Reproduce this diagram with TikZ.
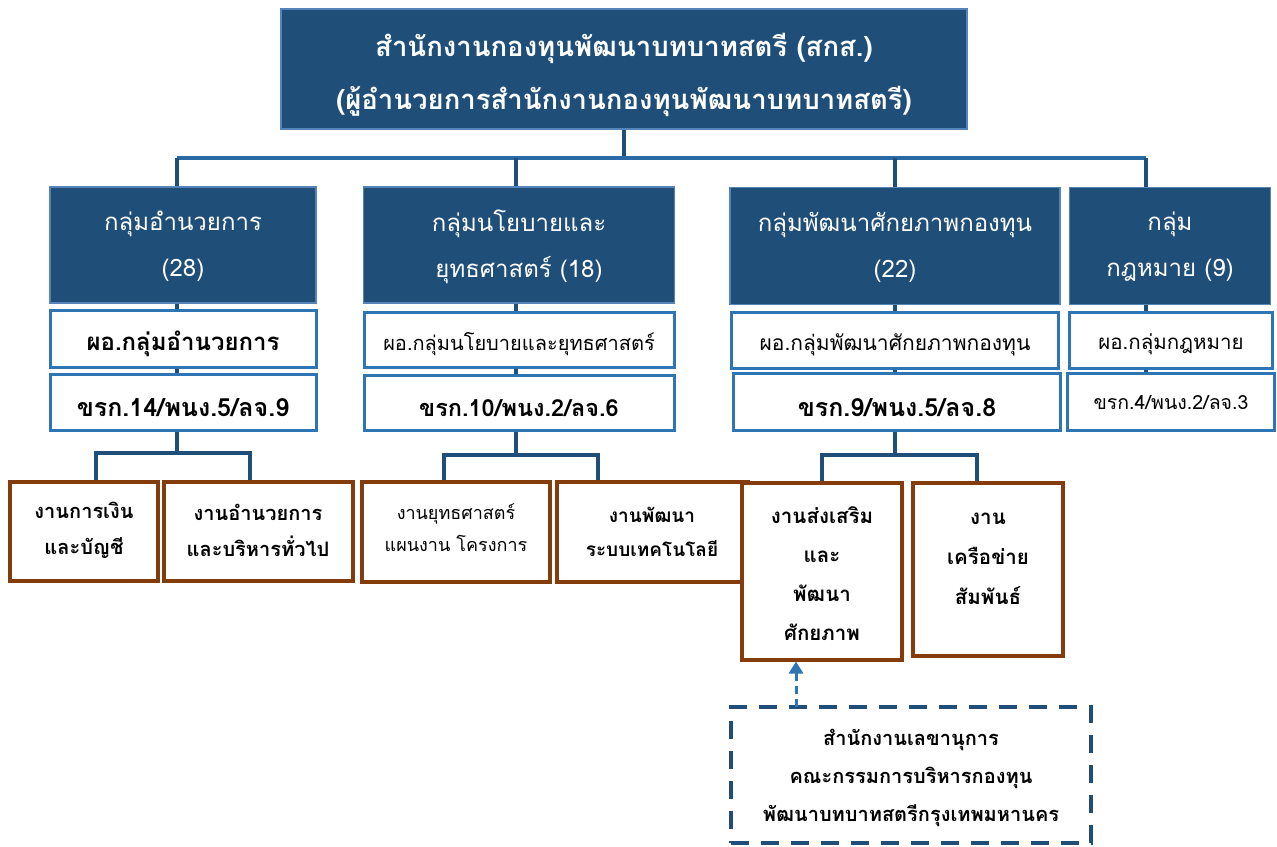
\documentclass[tikz,border=0pt]{standalone}
\usepackage{fontspec}
\setmainfont[Script=Thai]{Loma}
\usetikzlibrary{arrows.meta,backgrounds}
\definecolor{dkfill}{HTML}{1F4E79}
\definecolor{dkline}{HTML}{5585B8}
\definecolor{wline}{HTML}{2E75B6}
\definecolor{conn}{HTML}{1F4E79}
\definecolor{brn}{HTML}{843C0C}
\definecolor{arr}{HTML}{2E75B6}
\newcommand\fs[2]{\fontsize{#1}{#2}\selectfont}
\tikzset{
  box/.style={rectangle, inner sep=0pt, outer sep=0pt, align=center},
  dkbox/.style={box, fill=dkfill, draw=dkline, line width=1.5pt},
  wbox/.style={box, fill=white, draw=wline, line width=3pt},
  bbox/.style={box, fill=white, draw=brn, line width=4pt},
  dbox/.style={box, fill=white, draw=conn, line width=4pt, dash pattern=on 18pt off 12pt},
  txt/.style={inner sep=0pt, outer sep=0pt, align=center, text=black},
  wtxt/.style={txt, text=white},
  cl/.style={draw=conn, line width=3.5pt},
  bus/.style={draw=wline!70!conn, line width=4.5pt},
}
\begin{document}
\begin{tikzpicture}[x=1pt,y=-1pt]
\useasboundingbox (0,0) rectangle (1277,846);
% top
\node[dkbox, minimum width=686pt, minimum height=120pt] (top) at (624,69) {};
\node[wtxt, font=\fs{27.5}{53}\bfseries] (topT) at ([yshift=-6pt]top.center)
  {สำนักงานกองทุนพัฒนาบทบาทสตรี (สกส.)\\(ผู้อำนวยการสำนักงานกองทุนพัฒนาบทบาทสตรี)};
% level 2
\node[dkbox, minimum width=266pt, minimum height=116pt] (gA) at (183,245) {};
\node[dkbox, minimum width=311pt, minimum height=116pt] (gB) at (519,245) {};
\node[dkbox, minimum width=330pt, minimum height=117pt] (gC) at (895,246) {};
\node[dkbox, minimum width=201pt, minimum height=117pt] (gD) at (1170,246) {};
\node[wtxt, font=\fs{24}{46}] (gAT) at ([yshift=-1.5pt]gA.center) {กลุ่มอำนวยการ\\(28)};
\node[wtxt, font=\fs{24}{46}] (gBT) at ([yshift=-1.5pt]gB.center) {กลุ่มนโยบายและ\\ยุทธศาสตร์ (18)};
\node[wtxt, font=\fs{24}{46}] (gCT) at ([yshift=-1pt]gC.center) {กลุ่มพัฒนาศักยภาพกองทุน\\(22)};
\node[wtxt, font=\fs{24}{46}] (gDT) at ([yshift=-1pt]gD.center) {กลุ่ม\\กฎหมาย (9)};
% level 3
\node[wbox, minimum width=266pt, minimum height=57pt] (hA) at (183,339) {};
\node[wbox, minimum width=310pt, minimum height=55pt] (hB) at (519,340) {};
\node[wbox, minimum width=327pt, minimum height=56pt] (hC) at (895,340) {};
\node[wbox, minimum width=203pt, minimum height=56pt] (hD) at (1171,340) {};
\node[txt, font=\fs{24}{28}\bfseries] (hAT) at ([yshift=-5pt]hA.center) {ผอ.กลุ่มอำนวยการ};
\node[txt, font=\fs{20}{24}] (hBT) at ([yshift=-4pt]hB.center) {ผอ.กลุ่มนโยบายและยุทธศาสตร์};
\node[txt, font=\fs{21}{25}] (hCT) at ([yshift=-5pt]hC.center) {ผอ.กลุ่มพัฒนาศักยภาพกองทุน};
\node[txt, font=\fs{20.5}{24}] (hDT) at ([yshift=-4pt]hD.center) {ผอ.กลุ่มกฎหมาย};
% level 4
\node[wbox, minimum width=266pt, minimum height=56pt] (sA) at (183,402) {};
\node[wbox, minimum width=310pt, minimum height=55pt] (sB) at (519,403) {};
\node[wbox, minimum width=327pt, minimum height=57pt] (sC) at (897,402) {};
\node[wbox, minimum width=207pt, minimum height=57pt] (sD) at (1171,402) {};
\node[txt, font=\fs{25}{28}\bfseries] (sAT) at ([yshift=-6pt]sA.center) {ขรก.14/พนง.5/ลจ.9};
\node[txt, font=\fs{23.5}{28}\bfseries] (sBT) at ([yshift=-5pt]sB.center) {ขรก.10/พนง.2/ลจ.6};
\node[txt, font=\fs{25}{28}\bfseries] (sCT) at ([yshift=-6pt]sC.center) {ขรก.9/พนง.5/ลจ.8};
\node[txt, font=\fs{19.5}{22}] (sDT) at ([yshift=-1pt]sD.center) {ขรก.4/พนง.2/ลจ.3};
% level 5
\node[bbox, minimum width=148pt, minimum height=99pt] (a1) at (84,531) {};
\node[bbox, minimum width=189pt, minimum height=99pt] (a2) at (258,531) {};
\node[bbox, minimum width=188pt, minimum height=100pt] (b1) at (456,532) {};
\node[bbox, minimum width=191pt, minimum height=100pt] (b2) at (652,532) {};
\node[bbox, minimum width=160pt, minimum height=177pt] (c1) at (822,571) {};
\node[bbox, minimum width=150pt, minimum height=173pt] (c2) at (988,569.5) {};
\node[txt, font=\fs{20}{36}\bfseries] (a1T) at ([yshift=1pt]a1.center) {งานการเงิน\\และบัญชี};
\node[txt, font=\fs{20}{36}\bfseries] (a2T) at ([yshift=1pt]a2.center) {งานอำนวยการ\\และบริหารทั่วไป};
\node[txt, font=\fs{18}{32}] (b1T) at ([yshift=4pt]b1.center) {งานยุทธศาสตร์\\แผนงาน โครงการ};
\node[txt, font=\fs{19}{34}\bfseries] (b2T) at (b2.center) {งานพัฒนา\\ระบบเทคโนโลยี};
\node[txt, font=\fs{20.5}{39}\bfseries] (c1T) at ([yshift=-3pt]c1.center) {งานส่งเสริม\\และ\\พัฒนา\\ศักยภาพ};
\node[txt, font=\fs{20.5}{40}\bfseries] (c2T) at ([yshift=10.5pt]c2.center) {งาน\\เครือข่าย\\สัมพันธ์};
% dashed
\node[dbox, minimum width=360pt, minimum height=136pt] (sec) at (911,775) {};
\node[txt, font=\fs{20}{38}\bfseries] (secT) at ([yshift=-3pt]sec.center)
  {สำนักงานเลขานุการ\\คณะกรรมการบริหารกองทุน\\พัฒนาบทบาทสตรีกรุงเทพมหานคร};
% coordinates
\coordinate (busL) at (177,158);
\coordinate (busR) at (1146,158);
\coordinate (xB) at (516,158);
\coordinate (xC) at (895,158);
\coordinate (fA1) at (96,453);
\coordinate (fA2) at (250,453);
\coordinate (fB1) at (444,455);
\coordinate (fB2) at (598,455);
\coordinate (fC1) at (822,455);
\coordinate (fC2) at (977,455);
\coordinate (arS) at (796,707);
\begin{pgfonlayer}{background}
\path[cl] (top.south) -- (top.south|-busL);
\path[bus] (busL) -- (busR);
\path[cl] (busL) -- (busL|-fA1);
\path[cl] (xB) -- (xB|-fB1);
\path[cl] (xC) -- (xC|-fC1);
\path[cl] (busR) -- (busR|-sD.south);
\path[cl] (fA1|-a1.north) -- (fA1) -- (fA2) -- (fA2|-a2.north);
\path[cl] (fB1|-b1.north) -- (fB1) -- (fB2) -- (fB2|-b2.north);
\path[cl] (fC1|-c1.north) -- (fC1) -- (fC2) -- (fC2|-c2.north);
\end{pgfonlayer}
\draw[draw=arr, line width=3pt, dash pattern=on 8pt off 5pt, -{Triangle[width=14pt,length=12pt,fill=arr]}] (arS) -- ([yshift=-2pt]arS|-c1.south);
\end{tikzpicture}
\end{document}
